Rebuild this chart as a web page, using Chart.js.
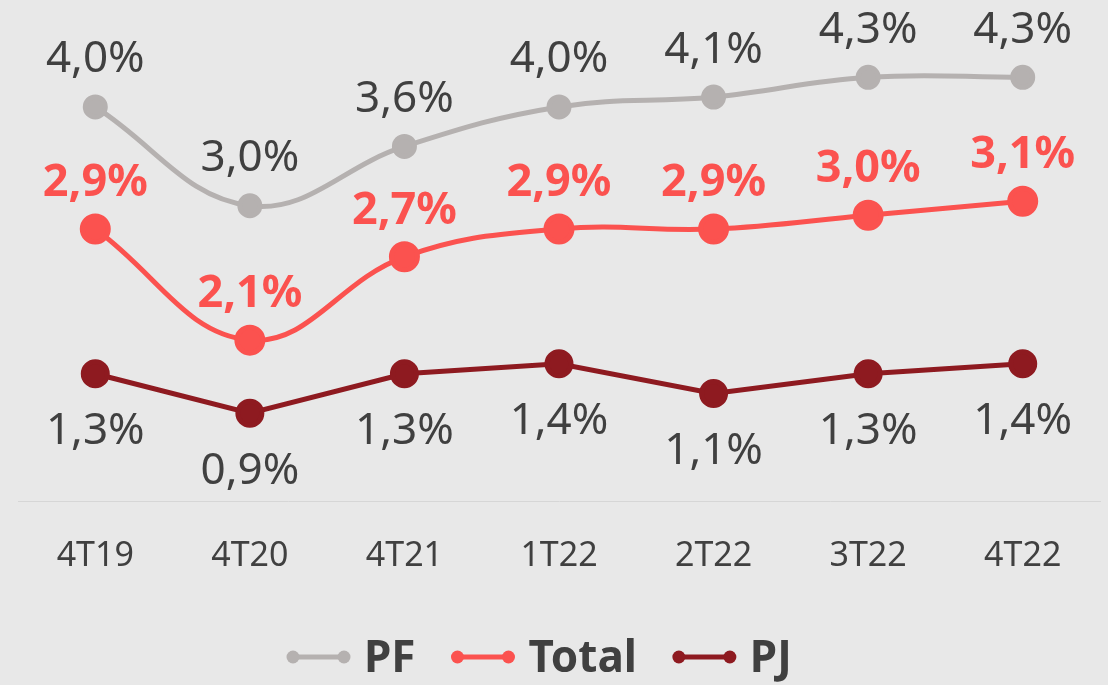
<!DOCTYPE html>
<html>
<head>
<meta charset="utf-8">
<script src="https://cdn.jsdelivr.net/npm/chart.js@4/dist/chart.umd.min.js"></script>
<style>
  html, body { margin: 0; padding: 0; background: #e8e8e8; }
  #wrap { width: 1108px; height: 685px; }
</style>
</head>
<body>
<div id="wrap"><canvas id="rateChart"></canvas></div>
<script>
const periods = ["4T19", "4T20", "4T21", "1T22", "2T22", "3T22", "4T22"];
const pfValues = [4.0, 3.0, 3.6, 4.0, 4.1, 4.3, 4.3];
const totalValues = [2.9, 2.1, 2.7, 2.9, 2.9, 3.0, 3.1];
const pjValues = [1.3, 0.9, 1.3, 1.4, 1.1, 1.3, 1.4];

const textColor = "#404040";
const fmt = v => v.toFixed(1).replace(".", ",") + "%";

// labels above / below each point
const pointLabels = {
  id: "pointLabels",
  afterDatasetsDraw(chart) {
    const ctx = chart.ctx;
    chart.data.datasets.forEach((ds, i) => {
      const meta = chart.getDatasetMeta(i);
      ctx.save();
      ctx.font = ds.labelBold ? "bold 45px 'Noto Sans', sans-serif" : "44px 'Noto Sans', sans-serif";
      ctx.fillStyle = ds.labelColor;
      ctx.textAlign = "center";
      ctx.textBaseline = "middle";
      meta.data.forEach((pt, j) => {
        ctx.fillText(fmt(ds.data[j]), pt.x, pt.y + ds.labelOffset);
      });
      ctx.restore();
    });
  }
};

// legend with a dot at both ends of the line
const lineLegend = {
  id: "lineLegend",
  afterDraw(chart) {
    const ctx = chart.ctx;
    const y = 657;
    let x = 287;
    ctx.save();
    ctx.font = "bold 44px 'Noto Sans', sans-serif";
    ctx.textBaseline = "middle";
    chart.data.datasets.forEach(ds => {
      ctx.strokeStyle = ds.borderColor;
      ctx.fillStyle = ds.borderColor;
      ctx.lineWidth = 5;
      ctx.beginPath();
      ctx.moveTo(x + 6, y);
      ctx.lineTo(x + 57, y);
      ctx.stroke();
      [x + 6, x + 57].forEach(cx => {
        ctx.beginPath();
        ctx.arc(cx, y, 6.5, 0, Math.PI * 2);
        ctx.fill();
      });
      x += 63 + 14;
      ctx.fillStyle = textColor;
      ctx.fillText(ds.label, x, y + 2);
      x += ctx.measureText(ds.label).width + 36;
    });
    ctx.restore();
  }
};

new Chart(document.getElementById("rateChart"), {
  type: "line",
  data: {
    labels: periods,
    datasets: [
      {
        label: "PF",
        data: pfValues,
        yAxisID: "y",
        borderColor: "#b5b1b0",
        backgroundColor: "#b5b1b0",
        borderWidth: 5,
        pointRadius: 10,
        pointHoverRadius: 10,
        tension: 0.4,
        labelColor: textColor,
        labelBold: false,
        labelOffset: -47
      },
      {
        label: "Total",
        data: totalValues,
        yAxisID: "y2",
        borderColor: "#fb524f",
        backgroundColor: "#fb524f",
        borderWidth: 5,
        pointRadius: 13,
        pointHoverRadius: 13,
        tension: 0.4,
        labelColor: "#fb524f",
        labelBold: true,
        labelOffset: -46
      },
      {
        label: "PJ",
        data: pjValues,
        yAxisID: "y",
        borderColor: "#8e1a20",
        backgroundColor: "#8e1a20",
        borderWidth: 5,
        pointRadius: 12,
        pointHoverRadius: 12,
        tension: 0,
        labelColor: textColor,
        labelBold: false,
        labelOffset: 58
      }
    ]
  },
  options: {
    responsive: true,
    maintainAspectRatio: false,
    animation: false,
    layout: {
      autoPadding: false,
      padding: { left: 18, right: 8, top: 18, bottom: 73 }
    },
    plugins: {
      legend: { display: false },
      tooltip: { enabled: false }
    },
    scales: {
      x: {
        offset: true,
        grid: { display: false, drawTicks: false },
        border: { display: true, color: "#d6d6d6", width: 1 },
        ticks: {
          color: textColor,
          padding: 35,
          font: { family: "'Noto Sans', sans-serif", size: 34 }
        },
        afterFit(scale) {
          // keep the big tick padding from widening the side margins
          scale.paddingLeft = 0;
          scale.paddingRight = 0;
        }
      },
      y: { display: false, min: 0.01, max: 4.9 },
      y2: { display: false, min: 0.94, max: 4.42 }
    }
  },
  plugins: [pointLabels, lineLegend]
});
</script>
</body>
</html>
